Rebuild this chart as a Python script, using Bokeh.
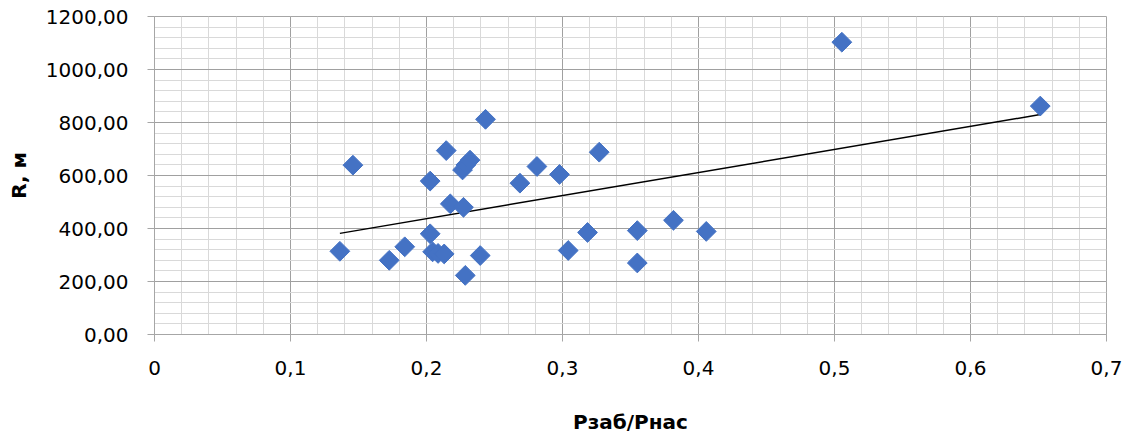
import numpy as np
from bokeh.plotting import figure
from bokeh.models import FixedTicker, Range1d
from bokeh.embed import file_html
from bokeh.resources import INLINE

# data
p_ratio = [0.1363, 0.1459, 0.1726, 0.1840, 0.2027, 0.2145, 0.2027, 0.2045, 0.2085,
           0.2130, 0.2285, 0.2395, 0.2175, 0.2272, 0.2265, 0.2290, 0.2320, 0.2434,
           0.2687, 0.2812, 0.2978, 0.3270, 0.3042, 0.3184, 0.3550, 0.3550, 0.3816,
           0.4057, 0.5054, 0.6513]
radius_m = [314, 639, 280, 331, 579, 694, 380, 312, 306,
            304, 223, 298, 493, 480, 621, 640, 658, 812,
            571, 634, 604, 688, 317, 385, 392, 270, 431,
            389, 1103, 862]

x_ticks = [0, 0.1, 0.2, 0.3, 0.4, 0.5, 0.6, 0.7]
x_tick_labels = ["0", "0,1", "0,2", "0,3", "0,4", "0,5", "0,6", "0,7"]
x_minor_ticks = [round(i * 0.02, 2) for i in range(36)]
y_ticks = [0, 200, 400, 600, 800, 1000, 1200]
y_tick_labels = ["0,00", "200,00", "400,00", "600,00", "800,00", "1000,00", "1200,00"]
y_minor_ticks = [i * 40 for i in range(31)]

FONT = "DejaVu Sans"

p = figure(width=1128, height=441, output_backend="svg", toolbar_location=None,
           x_range=Range1d(0, 0.7), y_range=Range1d(0, 1200),
           min_border_left=154, min_border_right=22, min_border_top=16, min_border_bottom=107)

p.xaxis.ticker = FixedTicker(ticks=x_ticks, minor_ticks=x_minor_ticks)
p.yaxis.ticker = FixedTicker(ticks=y_ticks, minor_ticks=y_minor_ticks)
p.xaxis.major_label_overrides = {t: l for t, l in zip(x_ticks, x_tick_labels)}
p.yaxis.major_label_overrides = {t: l for t, l in zip(y_ticks, y_tick_labels)}

for ax in (p.xaxis, p.yaxis):
    ax.axis_line_color = "#a6a6a6"
    ax.major_tick_line_color = "#a6a6a6"
    ax.major_tick_out = 7
    ax.major_tick_in = 0
    ax.minor_tick_line_color = None
    ax.major_label_text_font = FONT
    ax.major_label_text_font_size = "20px"
    ax.major_label_text_color = "#000000"
    ax.axis_label_text_font = FONT
    ax.axis_label_text_font_size = "20px"
    ax.axis_label_text_font_style = "bold"
    ax.axis_label_text_color = "#000000"

p.xaxis.axis_label = "Рзаб/Рнас"
p.yaxis.axis_label = "R, м"
p.xaxis.major_label_standoff = 19
p.xaxis.axis_label_standoff = 32
p.yaxis.major_label_standoff = 19
p.yaxis.axis_label_standoff = 12

p.grid.grid_line_color = "#a0a0a0"
p.grid.minor_grid_line_color = "#d9d9d9"
p.outline_line_color = "#a6a6a6"
p.background_fill_color = "white"
p.border_fill_color = "white"

# linear trend line from the data
k, b = np.polyfit(p_ratio, radius_m, 1)
xs = [min(p_ratio), max(p_ratio)]
p.line(xs, [k * x + b for x in xs], line_color="black", line_width=1.5)

p.scatter(p_ratio, radius_m, marker="square", size=14, angle=np.pi / 4,
          fill_color="#4472C4", line_color="#4472C4")

open("out.html", "w").write(file_html(p, INLINE))
